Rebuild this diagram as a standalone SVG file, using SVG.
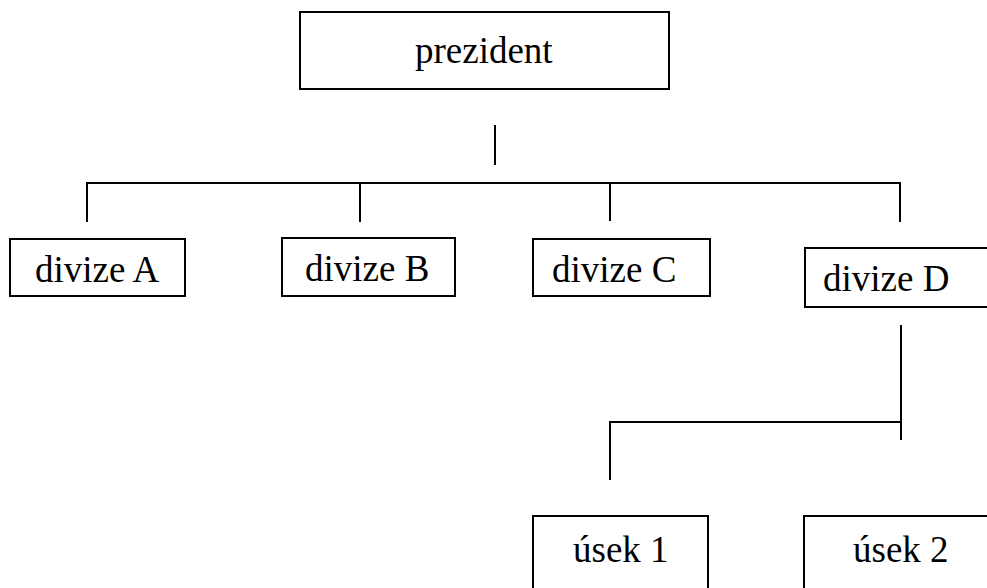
<svg xmlns="http://www.w3.org/2000/svg" width="987" height="588" viewBox="0 0 987 588">
<style>
.box{fill:#fff;stroke:#000;stroke-width:2}
.lbl{font-family:"Liberation Serif","Times New Roman",serif;font-size:37px;fill:#000}
.con{stroke:#000;stroke-width:2;fill:none}
</style>
<rect x="0" y="0" width="987" height="588" fill="#fff"/>
<g id="connectors">
<line class="con" x1="495" y1="125" x2="495" y2="165"/>
<polyline class="con" points="87,222 87,183 900,183 900,222"/>
<line class="con" x1="360" y1="183" x2="360" y2="222"/>
<line class="con" x1="610" y1="183" x2="610" y2="221"/>
<line class="con" x1="901" y1="325" x2="901" y2="440"/>
<polyline class="con" points="610,480 610,422 901,422"/>
</g>
<g id="prezident">
<rect class="box" x="300" y="12" width="369" height="77"/>
<text class="lbl" x="415" y="63">prezident</text>
</g>
<g id="divizeA">
<rect class="box" x="10" y="239" width="175" height="57"/>
<text class="lbl" x="35" y="282">divize A</text>
</g>
<g id="divizeB">
<rect class="box" x="282" y="238" width="173" height="58"/>
<text class="lbl" x="305" y="281">divize B</text>
</g>
<g id="divizeC">
<rect class="box" x="533" y="239" width="177" height="57"/>
<text class="lbl" x="552" y="282">divize C</text>
</g>
<g id="divizeD">
<rect class="box" x="805" y="248" width="190" height="59"/>
<text class="lbl" x="823" y="291">divize D</text>
</g>
<g id="usek1">
<rect class="box" x="533" y="516" width="175" height="80"/>
<text class="lbl" x="573" y="562">úsek 1</text>
</g>
<g id="usek2">
<rect class="box" x="804" y="516" width="190" height="80"/>
<text class="lbl" x="853" y="562">úsek 2</text>
</g>
</svg>
